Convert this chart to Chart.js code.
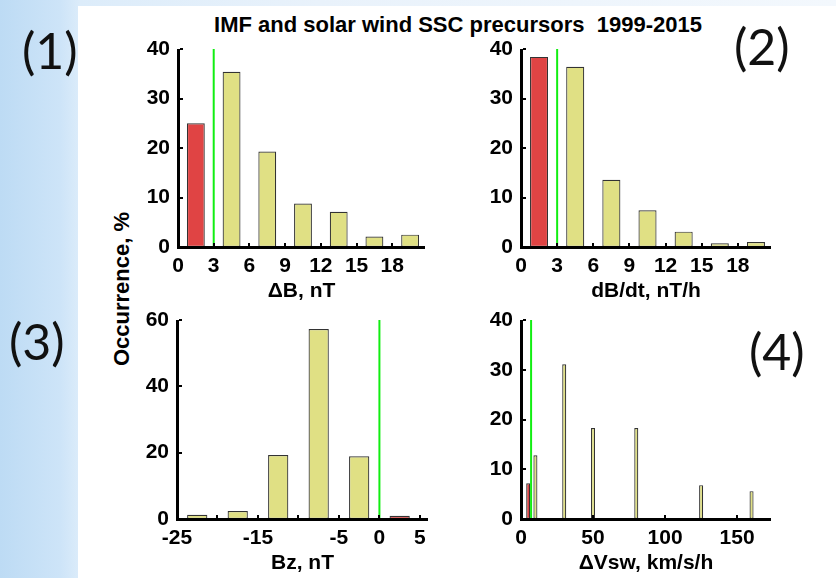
<!DOCTYPE html>
<html>
<head>
<meta charset="utf-8">
<script src="https://cdn.jsdelivr.net/npm/chart.js@4.4.1/dist/chart.umd.min.js"></script>
<style>
  html, body { margin: 0; padding: 0; }
  body {
    width: 836px; height: 578px; position: relative; overflow: hidden;
    background: linear-gradient(to right, #bddbf4 0px, #cde4f8 60px, #dcecfa 80px, #e9f2fb 320px, #f3f8fd 836px);
  }
  #sheet { position: absolute; left: 78px; top: 6px; right: 0; bottom: 0; background: #ffffff; }
  canvas { position: absolute; }
  .tag {
    position: absolute; font-family: Lato, 'Open Sans', sans-serif; font-size: 50px;
    line-height: 50px; color: #111; white-space: nowrap;
  }
  #title {
    position: absolute; left: 108px; width: 700px; top: 14px; text-align: center;
    font: bold 22px 'Liberation Sans', Arial, sans-serif; line-height: 22px; color: #000;
    white-space: pre;
  }
  #ylab {
    position: absolute; left: 22px; top: 276px; width: 200px; height: 26px; line-height: 26px;
    text-align: center; font: bold 22px 'Liberation Sans', Arial, sans-serif; color: #000;
    transform: rotate(-90deg); white-space: nowrap;
  }
</style>
</head>
<body>
<div id="sheet"></div>
<div id="title">IMF and solar wind SSC precursors  1999-2015</div>
<div id="ylab">Occurrence, %</div>
<div class="tag" style="left:22px; top:25px;">(1)</div>
<div class="tag" style="left:734px; top:21px;">(2)</div>
<div class="tag" style="left:9px; top:316px;">(3)</div>
<div class="tag" style="left:749px; top:326px;">(4)</div>
<canvas id="p1"></canvas>
<canvas id="p2"></canvas>
<canvas id="p3"></canvas>
<canvas id="p4"></canvas>
<script>
// ---- (1) IMF magnitude jump ΔB, nT ----
const dbCentres     = [1.5, 4.5, 7.5, 10.5, 13.5, 16.5, 19.5];
const dbOccurrence  = [25.0, 35.4, 19.3, 8.8, 7.1, 2.1, 2.5];
const dbThreshold   = 3;
const dbTickValues  = [0, 3, 6, 9, 12, 15, 18];
const dbTickLabels  = ['0', '3', '6', '9', '12', '15', '18'];
const dbYTicks      = [0, 10, 20, 30, 40];

// ---- (2) rate of change dB/dt, nT/h ----
const rateCentres    = [1.5, 4.5, 7.5, 10.5, 13.5, 16.5, 19.5];
const rateOccurrence = [38.4, 36.4, 13.6, 7.4, 3.1, 0.75, 1.0];
const rateThreshold  = 3;
const rateTickValues = [0, 3, 6, 9, 12, 15, 18];
const rateTickLabels = ['0', '3', '6', '9', '12', '15', '18'];
const rateYTicks     = [0, 10, 20, 30, 40];

// ---- (3) IMF Bz, nT ----
const bzCentres     = [-22.5, -17.5, -12.5, -7.5, -2.5, 2.5];
const bzOccurrence  = [1.3, 2.4, 19.3, 57.3, 18.9, 1.0];
const bzThreshold   = 0;
const bzTickValues  = [-25, -20, -15, -10, -5, 0, 5];
const bzTickLabels  = ['-25', '', '-15', '', '-5', '0', '5'];
const bzYTicks      = [0, 20, 40, 60];

// ---- (4) solar wind speed change ΔVsw, km/s/h ----
const vswCentres    = [5, 10, 30, 50, 80, 125, 160];
const vswOccurrence = [7.2, 12.8, 31.1, 18.3, 18.3, 6.8, 5.6];
const vswThreshold  = 7;
const vswTickValues = [0, 50, 100, 150];
const vswTickLabels = ['0', '50', '100', '150'];
const vswYTicks     = [0, 10, 20, 30, 40];

const RED = '#e04444';
const YELLOW = '#e0e084';
const OUTLINE = '#333333';
const GREEN = '#11ee11';
const TICK_FONT = { family: "'Liberation Sans', Arial, sans-serif", size: 21, weight: 'bold' };
const AXIS_FONT = { family: "'Liberation Sans', Arial, sans-serif", size: 21, weight: 'bold' };

// Y-axis strip width and X-axis strip height reserved inside each canvas
const LEFT_STRIP = 60, BOTTOM_STRIP = 62, TOP_PAD = 15, RIGHT_PAD = 15;

// Solid black axes and short inward tick stubs, drawn last
const axisFrame = {
  id: 'axisFrame',
  afterDraw(chart) {
    const { ctx } = chart;
    const xs = chart.scales.x, ys = chart.scales.y;
    const x0 = Math.round(xs.getPixelForValue(xs.min));
    const x1 = Math.round(xs.getPixelForValue(xs.max));
    const yb = Math.round(ys.getPixelForValue(ys.min));
    const yt = Math.round(ys.getPixelForValue(ys.max));
    ctx.save();
    ctx.fillStyle = '#000000';
    ctx.fillRect(x0 - 1, yt, 3, yb - yt + 2);
    ctx.fillRect(x0 - 1, yb - 1, x1 - x0 + 1, 3);
    ys.ticks.forEach(t => {
      const py = Math.round(ys.getPixelForValue(t.value));
      ctx.fillRect(x0 + 2, py - 1, 3, 2);
    });
    xs.ticks.forEach(t => {
      const px = Math.round(xs.getPixelForValue(t.value));
      ctx.fillRect(px - 1, yb - 4, 2, 3);
    });
    ctx.restore();
  }
};

function buildPanel(id, area, spec) {
  const canvas = document.getElementById(id);
  const w = area.right - area.left + LEFT_STRIP + RIGHT_PAD;
  const h = area.bottom - area.top + TOP_PAD + BOTTOM_STRIP;
  canvas.style.left = (area.left - LEFT_STRIP) + 'px';
  canvas.style.top = (area.top - TOP_PAD) + 'px';
  canvas.style.width = w + 'px';
  canvas.style.height = h + 'px';
  canvas.width = w;
  canvas.height = h;

  const bars = spec.centres.map((x, i) => ({ x: x, y: spec.values[i] }));
  // bins on the "quiet" side of the threshold are red, the rest yellow
  const barColours = spec.centres.map(x => ((x - spec.threshold) * spec.redSide > 0 ? RED : YELLOW));
  const yTop = spec.yTicks[spec.yTicks.length - 1];

  new Chart(canvas, {
    type: 'bar',
    plugins: [axisFrame],
    data: {
      datasets: [
        {
          type: 'line',
          data: [{ x: spec.threshold, y: 0 }, { x: spec.threshold, y: yTop }],
          borderColor: GREEN, borderWidth: 2, pointRadius: 0, order: 0
        },
        {
          type: 'bar',
          data: bars,
          backgroundColor: barColours,
          borderColor: OUTLINE, borderWidth: 1.2, borderSkipped: false,
          categoryPercentage: spec.barFill, barPercentage: 1, order: 1
        }
      ]
    },
    options: {
      responsive: false, animation: false, devicePixelRatio: 1,
      layout: { padding: { top: TOP_PAD, right: RIGHT_PAD, left: 0, bottom: 0 } },
      plugins: { legend: { display: false }, tooltip: { enabled: false } },
      scales: {
        x: {
          type: 'linear', min: spec.xMin, max: spec.xMax, offset: false,
          afterBuildTicks: s => { s.ticks = spec.xTicks.map(v => ({ value: v })); },
          afterFit: s => { s.height = BOTTOM_STRIP; s.paddingLeft = 0; s.paddingRight = 0; },
          ticks: {
            autoSkip: false, maxRotation: 0, minRotation: 0, padding: 7, color: '#000',
            font: TICK_FONT, callback: (v, i) => spec.xLabels[i]
          },
          grid: { offset: false, display: false, drawTicks: false, tickLength: 0 },
          border: { display: false },
          title: { display: true, text: spec.xTitle, color: '#000', font: AXIS_FONT, padding: { top: 0, bottom: 5 } }
        },
        y: {
          type: 'linear', min: 0, max: yTop,
          afterBuildTicks: s => { s.ticks = spec.yTicks.map(v => ({ value: v })); },
          afterFit: s => { s.width = LEFT_STRIP; s.paddingTop = 0; s.paddingBottom = 0; },
          ticks: { padding: 8, color: '#000', font: TICK_FONT, callback: v => String(v) },
          grid: { display: false, drawTicks: false, tickLength: 0 },
          border: { display: false }
        }
      }
    }
  });
}

buildPanel('p1', { left: 178, top: 49, right: 425, bottom: 247 }, {
  centres: dbCentres, values: dbOccurrence, threshold: dbThreshold, redSide: -1,
  xMin: 0, xMax: 20.75, xTicks: dbTickValues, xLabels: dbTickLabels, yTicks: dbYTicks,
  barFill: 0.5, xTitle: 'ΔB, nT'
});
buildPanel('p2', { left: 521, top: 49, right: 771, bottom: 247 }, {
  centres: rateCentres, values: rateOccurrence, threshold: rateThreshold, redSide: -1,
  xMin: 0, xMax: 20.75, xTicks: rateTickValues, xLabels: rateTickLabels, yTicks: rateYTicks,
  barFill: 0.5, xTitle: 'dB/dt, nT/h'
});
buildPanel('p3', { left: 177, top: 320, right: 428, bottom: 519 }, {
  centres: bzCentres, values: bzOccurrence, threshold: bzThreshold, redSide: 1,
  xMin: -25, xMax: 6, xTicks: bzTickValues, xLabels: bzTickLabels, yTicks: bzYTicks,
  barFill: 0.5, xTitle: 'Bz, nT'
});
buildPanel('p4', { left: 521, top: 320, right: 771, bottom: 519 }, {
  centres: vswCentres, values: vswOccurrence, threshold: vswThreshold, redSide: -1,
  xMin: 0, xMax: 173.5, xTicks: vswTickValues, xLabels: vswTickLabels, yTicks: vswYTicks,
  barFill: 0.56, xTitle: 'ΔVsw, km/s/h'
});
</script>
</body>
</html>
